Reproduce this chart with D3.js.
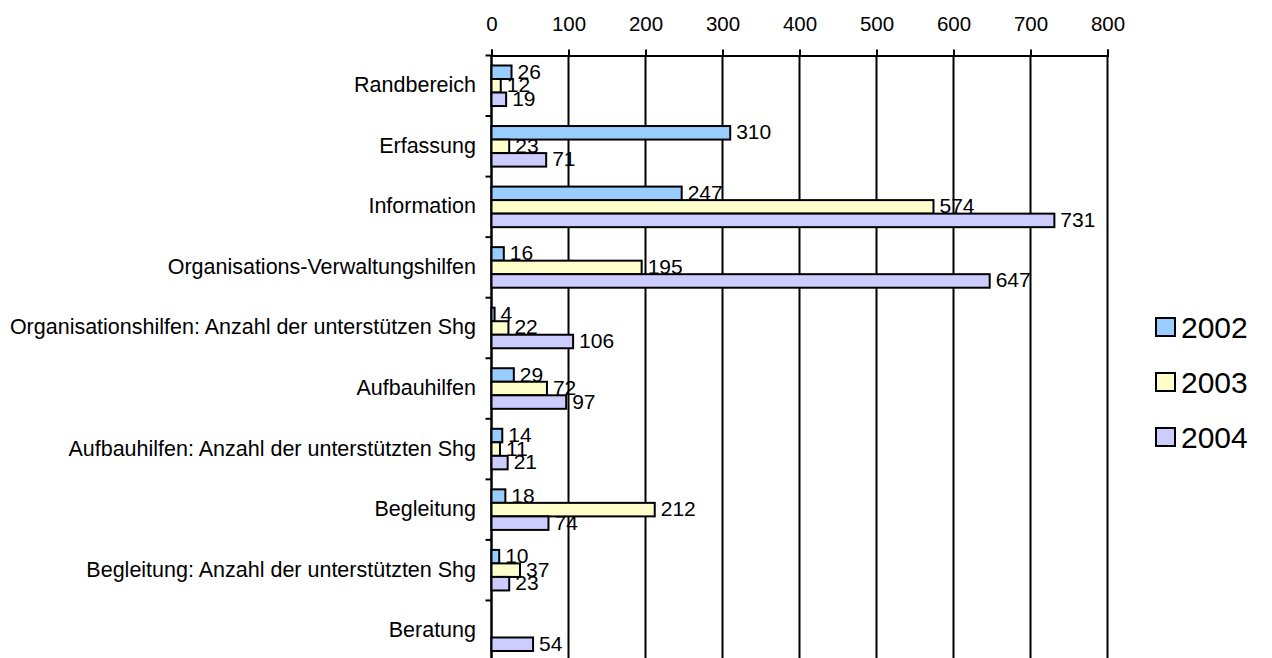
<!DOCTYPE html>
<html><head><meta charset="utf-8">
<script src="https://cdn.jsdelivr.net/npm/d3@7"></script>
<style>body{margin:0;background:#fff}svg{display:block}text{font-family:Arial,"Liberation Sans",sans-serif;fill:#000}</style>
</head><body><svg id="c" width="1272" height="658"></svg>
<script>
const categories = ["Randbereich","Erfassung","Information","Organisations-Verwaltungshilfen","Organisationshilfen: Anzahl der unterstützen Shg","Aufbauhilfen","Aufbauhilfen: Anzahl der unterstützten Shg","Begleitung","Begleitung: Anzahl der unterstützten Shg","Beratung"];
const seriesNames = ["2002","2003","2004"];
const values2002 = [26,310,247,16,4,29,14,18,10,null];
const values2003 = [12,23,574,195,22,72,11,212,37,null];
const values2004 = [19,71,731,647,106,97,21,74,23,54];
const xTicks = [0,100,200,300,400,500,600,700,800];
const colors = ["#99CCFF","#FFFFCC","#CCCCFF"];
const series = [values2002, values2003, values2004];

const svg = d3.select("#c");
const pLeft = 491.5, pRight = 1107.5, pTop = 55.5, pBottom = 661;
const x = d3.scaleLinear().domain([0,800]).range([pLeft,pRight]);
const y = d3.scaleBand().domain(categories).range([pTop,pBottom]).paddingInner(0.33).paddingOuter(0.165);
const yIn = d3.scaleBand().domain(seriesNames).range([0,y.bandwidth()]);
const FS = 21.5;

// gridlines
svg.append("g").selectAll("line").data(xTicks).join("line")
  .attr("x1",d=>x(d)).attr("x2",d=>x(d)).attr("y1",pTop).attr("y2",pBottom)
  .attr("stroke","#000").attr("stroke-width",2);

// top axis
const ax = svg.append("g").attr("transform",`translate(0,${pTop})`)
  .call(d3.axisTop(x).tickValues(xTicks).tickSize(6).tickPadding(18.5));
ax.select(".domain").attr("stroke-width",2);
ax.selectAll(".tick line").attr("stroke-width",2);
ax.selectAll("text").attr("font-size",20.5).attr("font-family","Arial, Liberation Sans, sans-serif");

// left axis
const bandEdges = d3.range(categories.length+1).map(i=>pTop + i*(pBottom-pTop)/categories.length);
svg.append("line").attr("x1",pLeft).attr("x2",pLeft).attr("y1",pTop).attr("y2",pBottom).attr("stroke","#000").attr("stroke-width",2);
svg.append("g").selectAll("line").data(bandEdges).join("line")
  .attr("x1",pLeft-6).attr("x2",pLeft).attr("y1",d=>d).attr("y2",d=>d).attr("stroke","#000").attr("stroke-width",2);

// category labels
svg.append("g").selectAll("text").data(categories).join("text")
  .attr("x",476).attr("y",d=>y(d)+y.bandwidth()/2).attr("dy","0.3em")
  .attr("text-anchor","end").attr("font-size",FS).text(d=>d);

// bars
series.forEach((vals,si)=>{
  const g = svg.append("g");
  const data = categories.map((c,i)=>({c,v:vals[i]})).filter(d=>d.v!==null);
  g.selectAll("rect").data(data).join("rect")
    .attr("x",x(0)).attr("y",d=>y(d.c)+yIn(seriesNames[si]))
    .attr("width",d=>x(d.v)-x(0)).attr("height",yIn.bandwidth())
    .attr("fill",colors[si]).attr("stroke","#000").attr("stroke-width",2);
  g.selectAll("text").data(data).join("text")
    .attr("x",d=>x(d.v)+6).attr("y",d=>y(d.c)+yIn(seriesNames[si])+yIn.bandwidth()/2)
    .attr("dy","0.31em").attr("font-size",21).text(d=>d.v);
});

// legend
const lg = svg.append("g");
seriesNames.forEach((s,i)=>{
  const cy = 327 + i*55;
  lg.append("rect").attr("x",1156).attr("y",cy-9).attr("width",19).attr("height",18)
    .attr("fill",colors[i]).attr("stroke","#000").attr("stroke-width",2);
  lg.append("text").attr("x",1181).attr("y",cy).attr("dy","0.36em").attr("font-size",30).text(s);
});
</script></body></html>
